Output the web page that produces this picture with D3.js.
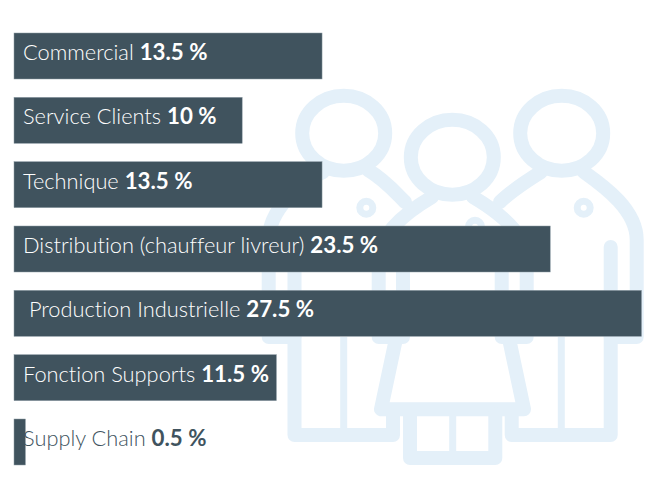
<!DOCTYPE html>
<html lang="fr">
<head>
<meta charset="utf-8">
<title>Répartition par métier</title>
<script src="https://cdn.jsdelivr.net/npm/d3@7"></script>
<style>
  html, body { margin: 0; padding: 0; background: #fff; }
  svg { display: block; }
  text { font-family: Lato, "Open Sans", sans-serif; font-size: 21.8px; white-space: pre; font-variant-ligatures: none; }
</style>
</head>
<body>
<div id="chart"></div>
<script>
const categories = ["Commercial", "Service Clients", "Technique", "Distribution (chauffeur livreur)", " Production Industrielle", "Fonction Supports", "Supply Chain"];
const values = [13.5, 10, 13.5, 23.5, 27.5, 11.5, 0.5];

const w = 657, h = 480;
const barColor = "#40535e", iconColor = "#e4f0f9";

const svg = d3.select("#chart").append("svg")
    .attr("width", w)
    .attr("height", h)
    .attr("viewBox", `0 0 ${w} ${h}`);

// 1. Background icon (three people), purely decorative
const icon = svg.append("g")
    .attr("fill", "none")
    .attr("stroke", iconColor)
    .attr("stroke-width", 14)
    .attr("stroke-linecap", "round")
    .attr("stroke-linejoin", "round");

[[343.7, 133.3], [561.7, 133.3], [452.3, 157.3]].forEach(([cx, cy]) => {
    icon.append("ellipse").attr("cx", cx).attr("cy", cy).attr("rx", 41.5).attr("ry", 37.5);
});

[[366.3, 207.7], [583.7, 207.7], [475, 226.7]].forEach(([cx, cy]) => {
    icon.append("circle").attr("cx", cx).attr("cy", cy).attr("r", 6.5).attr("stroke-width", 7);
});

const iconPaths = [
    // left person
    "M323,172 C300,182 268.7,210 268.7,240 V337 H294.5",
    "M294.5,247 V435 H393 V414",
    "M368,170 C385,180 395,192 405,202",
    // right person
    "M541,172 C525,182 510,192 500,202",
    "M584,172 C605,187 636.7,210 636.7,240 V337 H610.7",
    "M610.7,247 V435 H511.7 V414",
    // middle person
    "M432,197 C410,210 378.7,232 378.7,260 V337 H403 V260",
    "M473,197 C495,210 526.7,232 526.7,260 V337 H501.7 V260",
    "M395.7,340 L381,409.3 H524 L509.3,340",
    "M410,414 V458 H495.3 V414"
];
icon.selectAll("path.body")
    .data(iconPaths)
    .join("path")
    .attr("class", "body")
    .attr("d", d => d);

const thinPaths = ["M343.7,337 V430", "M561.3,337 V430", "M452.7,414 V453"];
icon.selectAll("path.thin")
    .data(thinPaths)
    .join("path")
    .attr("class", "thin")
    .attr("stroke-width", 7)
    .attr("stroke-linecap", "butt")
    .attr("d", d => d);

// 2. Bars
const x = d3.scaleLinear().domain([0, d3.max(values)]).range([14, 641.5]);
const y = d3.scaleBand().domain(categories).range([33, 465]).paddingInner(0.285);

const rows = categories.map((c, i) => ({ label: c, value: values[i] }));

svg.selectAll("rect.bar")
    .data(rows)
    .join("rect")
    .attr("class", "bar")
    .attr("x", x(0))
    .attr("y", d => y(d.label))
    .attr("width", d => x(d.value) - x(0))
    .attr("height", y.bandwidth())
    .attr("fill", barColor)
    .attr("stroke", "#8d9ca5")
    .attr("stroke-width", 0.5);

// 3. Labels: white inside the bar, dark when the bar is too short
const labels = svg.selectAll("text.label")
    .data(rows)
    .join("text")
    .attr("class", "label")
    .attr("x", 23)
    .attr("y", d => y(d.label) + 27)
    .attr("fill", d => d.value < 1 ? barColor : "#fff");

labels.append("tspan").attr("font-weight", 300).text(d => d.label + " ");
labels.append("tspan").attr("font-weight", 700).attr("font-size", "22.3px").text(d => `${d.value} %`);
</script>
</body>
</html>
